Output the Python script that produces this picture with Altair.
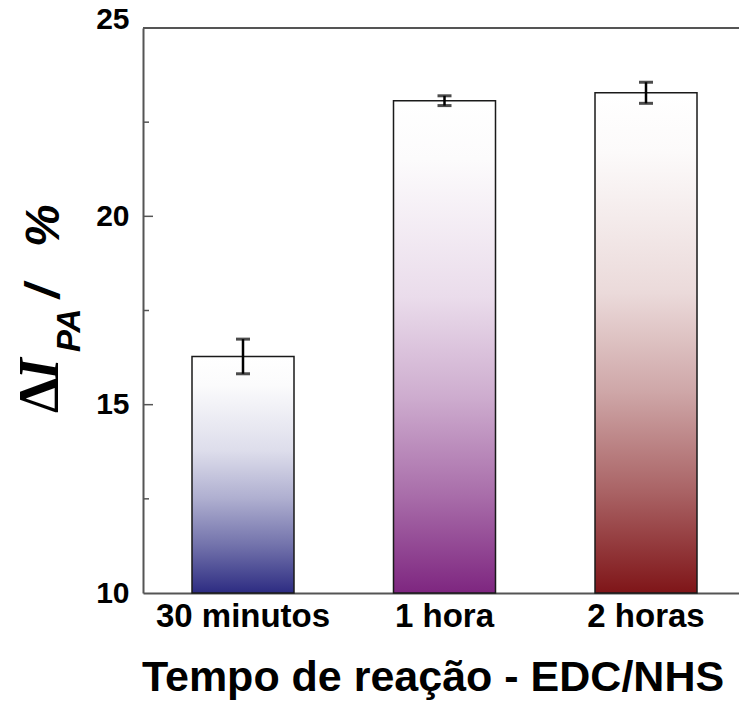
import altair as alt
import pandas as pd

categories = ["30 minutos", "1 hora", "2 horas"]
values = [16.28, 23.07, 23.28]
errors = [0.46, 0.13, 0.28]
base_colors = ["#2d2c82", "#7e2680", "#7f1518"]
y_ticks = [10, 15, 20, 25]
major_ticks = [15, 20]
minor_ticks = [12.5, 17.5, 22.5]

df = pd.DataFrame({"cat": categories, "val": values, "err": errors})

W, H = 596, 565


def mix(hexc, t):
    rgb = [int(hexc[i:i + 2], 16) for i in (1, 3, 5)]
    return "#%02x%02x%02x" % tuple(round(255 + (c - 255) * t) for c in rgb)


def gradient(hexc):
    profile = [(0, 0), (0.12, 0.02), (0.4, 0.16), (0.6, 0.38), (0.8, 0.67), (1, 1)]
    return alt.Gradient(
        gradient="linear", x1=0, x2=0, y1=0, y2=1,
        stops=[alt.GradientStop(offset=o, color=mix(hexc, t)) for o, t in profile],
    )


xscale = alt.Scale(domain=categories, paddingInner=0.4938, paddingOuter=0.2258, align=0.5385)
yscale = alt.Scale(domain=[10, 25], nice=False, zero=False)

xaxis = alt.Axis(title=None, labelFontSize=33, labelPadding=7, ticks=False, tickSize=0,
                 labelAngle=0, labelFont="Liberation Sans", labelFontWeight="bold",
                 labelColor="black", domainColor="#555555", domainWidth=2, grid=False)
yaxis = alt.Axis(
    title=None, values=y_ticks, format="d", labelFontSize=30, labelPadding=14,
    ticks=False, tickSize=0, labelFont="Liberation Sans", labelFontWeight="bold",
    labelColor="black", domainColor="#555555", domainWidth=2, grid=False,
    labelBaseline={"condition": {"test": "datum.value == 25", "value": "alphabetic"}, "value": "middle"},
)


def X():
    return alt.X("cat:N", sort=categories, scale=xscale, axis=xaxis)


def Y(field):
    return alt.Y(field, scale=yscale, axis=yaxis)


base = alt.Chart(df)

bars = []
for cat, col in zip(categories, base_colors):
    bars.append(
        base.transform_filter(alt.datum.cat == cat)
        .mark_bar(color=gradient(col), stroke="#1a1a1a", strokeWidth=1.5)
        .encode(x=X(), y=Y("val:Q"), y2=alt.datum(10))
    )

eb = base.transform_calculate(lo="datum.val - datum.err", hi="datum.val + datum.err")
err_rule = eb.mark_rule(color="black", strokeWidth=2.5).encode(x=X(), y=Y("lo:Q"), y2="hi:Q")
cap_lo = eb.mark_tick(color="black", size=14, thickness=3).encode(x=X(), y=Y("lo:Q"))
cap_hi = eb.mark_tick(color="black", size=14, thickness=3).encode(x=X(), y=Y("hi:Q"))

top_frame = alt.Chart(alt.Data(values=[{"a": 1}])).mark_rule(color="#555555", strokeWidth=2).encode(
    x=alt.value(0), x2=alt.value(W), y=alt.value(0)
)

major = alt.Chart(pd.DataFrame({"v": major_ticks})).mark_rule(color="#555555", strokeWidth=1.5).encode(
    y=Y("v:Q"), x=alt.value(0), x2=alt.value(10)
)
minor = alt.Chart(pd.DataFrame({"v": minor_ticks})).mark_rule(color="#555555", strokeWidth=1.5).encode(
    y=Y("v:Q"), x=alt.value(0), x2=alt.value(6)
)


def label(text, x, y, size, font, angle=270, align="left", style="italic"):
    return alt.Chart(alt.Data(values=[{"t": text}])).mark_text(
        font=font, fontSize=size, fontWeight="bold", fontStyle=style, angle=angle,
        align=align, baseline="alphabetic", color="black",
    ).encode(text="t:N", x=alt.value(x), y=alt.value(y))


ylab_delta = label("Δ", -85, 385, 56, "Liberation Serif", style="normal")
ylab_i = label("I", -85, 352, 56, "Liberation Serif")
ylab_sub = label("PA", -63, 324, 33, "Liberation Sans")
ylab_slash = label("/", -84, 270, 48, "Liberation Sans")
ylab_pct = label("%", -84, 219, 48, "Liberation Sans")
xtitle = label("Tempo de reação - EDC/NHS", 290, 663, 43, "Liberation Sans",
               angle=0, align="center", style="normal")

chart = alt.layer(
    *bars, err_rule, cap_lo, cap_hi, top_frame, major, minor,
    ylab_delta, ylab_i, ylab_sub, ylab_slash, ylab_pct, xtitle,
).properties(
    width=W, height=H,
    padding={"left": 143, "top": 28, "right": 0, "bottom": 109},
    autosize=alt.AutoSizeParams(type="none"),
).configure_view(strokeWidth=0).configure_axis(grid=False)

chart.save("out.html", embed_options={"renderer": "svg", "actions": False})
